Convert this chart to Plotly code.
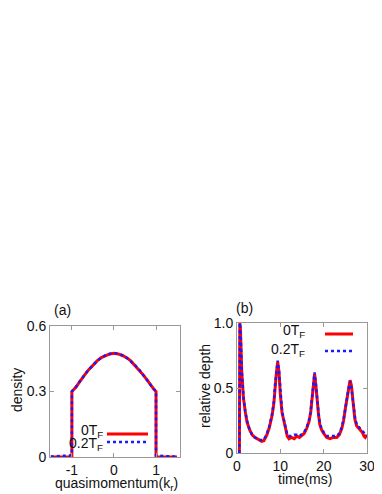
import plotly.graph_objects as go
from plotly.subplots import make_subplots

# panel (a): density vs quasimomentum
qm = [-1.5, -1.2, -1.0, -1.0, -0.95, -0.9, -0.85, -0.8, -0.7, -0.6, -0.5, -0.4, -0.3, -0.2, -0.1, 0.0,
      0.1, 0.2, 0.3, 0.4, 0.5, 0.6, 0.7, 0.8, 0.85, 0.9, 0.95, 1.0, 1.0, 1.2, 1.5]
density_0 = [0.0, 0.0, 0.0, 0.30, 0.31, 0.32, 0.335, 0.35, 0.375, 0.40, 0.42, 0.44, 0.455, 0.465, 0.472, 0.475,
             0.472, 0.465, 0.455, 0.44, 0.42, 0.40, 0.375, 0.35, 0.335, 0.32, 0.31, 0.30, 0.0, 0.0, 0.0]
density_02 = [0.002, 0.004, 0.008, 0.30, 0.31, 0.322, 0.336, 0.351, 0.376, 0.40, 0.421, 0.44, 0.455, 0.466, 0.472, 0.476,
              0.472, 0.466, 0.455, 0.44, 0.421, 0.40, 0.376, 0.351, 0.336, 0.322, 0.31, 0.30, 0.008, 0.004, 0.002]

# panel (b): relative depth vs time
t_ms = [0.55, 0.65, 0.8, 1.1, 1.5, 1.9, 2.3, 2.9, 3.5, 4.1, 4.6, 5.2, 5.7, 6.2, 6.9, 7.5, 8.1, 8.5, 8.8, 9.1,
        9.4, 9.7, 10.0, 10.4, 10.8, 11.2, 11.6, 12.0, 12.6, 13.2, 13.8, 14.4, 15.0, 15.5, 16.1, 16.6, 17.0,
        17.4, 17.7, 17.9, 18.2, 18.5, 18.8, 19.1, 19.5, 20.0, 20.7, 21.5, 22.2, 23.0, 23.6, 24.2, 24.6,
        25.0, 25.4, 25.8, 26.1, 26.4, 26.8, 27.2, 27.6, 28.1, 28.5, 28.9, 29.3, 29.6, 30.0]
depth_0 = [0.0, 1.0, 0.95, 0.62, 0.42, 0.32, 0.24, 0.18, 0.14, 0.12, 0.11, 0.10, 0.09, 0.095, 0.14, 0.20, 0.29, 0.38, 0.52, 0.62,
           0.70, 0.62, 0.45, 0.31, 0.25, 0.18, 0.13, 0.11, 0.12, 0.11, 0.13, 0.12, 0.14, 0.15, 0.19, 0.24, 0.31,
           0.45, 0.57, 0.61, 0.52, 0.38, 0.30, 0.22, 0.18, 0.15, 0.12, 0.11, 0.12, 0.12, 0.14, 0.19, 0.25,
           0.34, 0.43, 0.50, 0.56, 0.52, 0.38, 0.26, 0.21, 0.19, 0.17, 0.16, 0.13, 0.12, 0.14]
depth_02 = [0.0, 1.0, 0.96, 0.63, 0.43, 0.32, 0.25, 0.18, 0.14, 0.12, 0.11, 0.10, 0.10, 0.10, 0.15, 0.21, 0.30, 0.39, 0.53, 0.63,
            0.71, 0.63, 0.46, 0.32, 0.26, 0.19, 0.14, 0.13, 0.13, 0.14, 0.14, 0.13, 0.15, 0.16, 0.20, 0.25, 0.32,
            0.46, 0.58, 0.62, 0.53, 0.39, 0.31, 0.23, 0.19, 0.16, 0.13, 0.13, 0.13, 0.13, 0.15, 0.20, 0.26,
            0.35, 0.44, 0.51, 0.55, 0.50, 0.39, 0.28, 0.22, 0.20, 0.19, 0.17, 0.15, 0.14, 0.13]

RED = "#ff0000"
BLUE = "#1a1aff"
FONT = "Liberation Sans, Arial, sans-serif"

# page body has an 8px margin, so the figure is 8px smaller and offset
OFF = 8
W, H = 382 - OFF, 494 - OFF


def px(x):
    return (x - OFF) / W


def py(y):
    return 1 - (y - OFF) / H


fig = make_subplots(rows=1, cols=2)

fig.add_trace(go.Scatter(x=qm, y=density_0, mode="lines", line=dict(color=RED, width=3), showlegend=False), row=1, col=1)
fig.add_trace(go.Scatter(x=qm, y=density_02, mode="lines", line=dict(color=BLUE, width=2.5, dash="dot"), showlegend=False), row=1, col=1)
fig.add_trace(go.Scatter(x=t_ms, y=depth_0, mode="lines", line=dict(color=RED, width=3), showlegend=False), row=1, col=2)
fig.add_trace(go.Scatter(x=t_ms, y=depth_02, mode="lines", line=dict(color=BLUE, width=2.5, dash="dot"), showlegend=False), row=1, col=2)

axis_style = dict(
    showgrid=False, zeroline=False, showline=True, linecolor="#999999", linewidth=1,
    mirror="ticks", ticks="inside", ticklen=4, tickcolor="#999999", automargin=False,
    tickfont=dict(size=14, color="#111111", family=FONT),
)

fig.update_xaxes(axis_style)
fig.update_yaxes(axis_style)

fig.update_xaxes(domain=[px(50), px(180)], range=[-1.52, 1.57], tickvals=[-1, 0, 1], ticktext=["-1", "0", "1"], row=1, col=1)
fig.update_yaxes(domain=[py(457), py(326)], range=[0, 0.6], tickvals=[0, 0.3, 0.6], ticktext=["0", "0.3", "0.6"], row=1, col=1)
fig.update_xaxes(domain=[px(237), px(367)], range=[0, 30], tickvals=[0, 10, 20, 30], row=1, col=2)
fig.update_yaxes(domain=[py(453), py(323)], range=[0, 1.0], tickvals=[0, 0.5, 1.0], ticktext=["0", "0.5", "1.0"], row=1, col=2)

labels = [
    ("(a)", 62, 310, 0),
    ("(b)", 244, 308, 0),
    ("density", 17, 390, -90),
    ("relative depth", 205, 386, -90),
    ("quasimomentum(k<sub>r</sub>)", 116, 484, 0),
    ("time(ms)", 305, 479, 0),
]
for text, x, y, ang in labels:
    fig.add_annotation(x=px(x), y=py(y), xref="paper", yref="paper", text=text, showarrow=False,
                       xanchor="center", yanchor="middle",
                       textangle=ang, font=dict(size=14, color="#111111", family=FONT))

# legends
legend_items = [
    ("0T<sub>F</sub>", 105, 431, 107, 148, 434, RED, "solid"),
    ("0.2T<sub>F</sub>", 105, 444, 107, 148, 442, BLUE, "dot"),
    ("0T<sub>F</sub>", 307, 331, 325, 353, 334, RED, "solid"),
    ("0.2T<sub>F</sub>", 307, 350, 325, 353, 351, BLUE, "dot"),
]
for text, tx, ty, x0, x1, ly, color, dash in legend_items:
    fig.add_annotation(x=px(tx), y=py(ty), xref="paper", yref="paper", text=text, showarrow=False,
                       xanchor="right", yanchor="middle", font=dict(size=14, color="#111111", family=FONT))
    fig.add_shape(type="line", xref="paper", yref="paper", x0=px(x0), x1=px(x1), y0=py(ly), y1=py(ly),
                  line=dict(color=color, width=3 if dash == "solid" else 2.5, dash=dash))

fig.update_layout(
    width=W, height=H, margin=dict(l=0, r=0, t=0, b=0),
    paper_bgcolor="white", plot_bgcolor="white",
    font=dict(family=FONT),
)

fig.write_html("out.html")
